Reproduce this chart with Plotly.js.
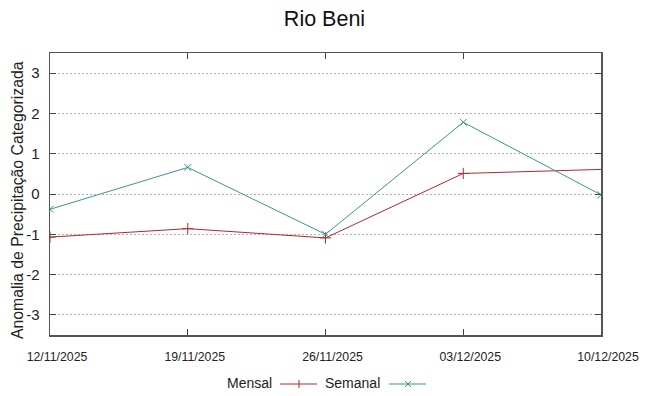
<!DOCTYPE html>
<html>
<head>
<meta charset="utf-8">
<script src="https://cdn.plot.ly/plotly-3.0.1.min.js"></script>
<style>html,body{margin:0;padding:0;background:#fff;}#chart{width:649px;height:396px;}</style>
</head>
<body>
<div id="chart"></div>
<script>
// Data
const dates = ['2025-11-12', '2025-11-19', '2025-11-26', '2025-12-03', '2025-12-10'];
const tickLabels = ['12/11/2025', '19/11/2025', '26/11/2025', '03/12/2025', '10/12/2025'];
const mensalDates = ['2025-11-12', '2025-11-19', '2025-11-26', '2025-12-03', '2025-12-17'];
const mensal = [-1.07, -0.86, -1.09, 0.51, 0.71];
const semanal = [-0.38, 0.66, -1.0, 1.78, -0.02];
const yTicks = [-3, -2, -1, 0, 1, 2, 3];

const FONT = '"Liberation Sans", Arial, sans-serif';
const RED = '#b0282c';
const TEAL = '#3a9595';

const L = 50, R = 601, T = 53, B = 335;
const px = x => (x - L) / (R - L);
const py = y => (B - y) / (B - T);

const traces = [
  {x: mensalDates, y: mensal, type: 'scatter', mode: 'lines+markers', name: 'Mensal',
   line: {color: RED, width: 1}, marker: {symbol: 'cross-thin-open', size: 8, line: {color: RED, width: 1}, color: RED},
   cliponaxis: true, showlegend: false},
  {x: dates, y: semanal, type: 'scatter', mode: 'lines+markers', name: 'Semanal',
   line: {color: TEAL, width: 1}, marker: {symbol: 'x-thin-open', size: 7, line: {color: TEAL, width: 1}, color: TEAL},
   cliponaxis: true, showlegend: false}
];

const shapes = [
  // legend samples
  {type: 'line', xref: 'paper', yref: 'paper', x0: px(280), x1: px(317), y0: py(384), y1: py(384), line: {color: RED, width: 1}},
  {type: 'line', xref: 'paper', yref: 'paper', x0: px(299), x1: px(299), y0: py(380), y1: py(388), line: {color: RED, width: 1}},
  {type: 'line', xref: 'paper', yref: 'paper', x0: px(389), x1: px(426), y0: py(384), y1: py(384), line: {color: TEAL, width: 1}},
  {type: 'line', xref: 'paper', yref: 'paper', x0: px(405), x1: px(411), y0: py(381), y1: py(387), line: {color: TEAL, width: 1}},
  {type: 'line', xref: 'paper', yref: 'paper', x0: px(405), x1: px(411), y0: py(387), y1: py(381), line: {color: TEAL, width: 1}}
];

const annotations = [
  {xref: 'paper', yref: 'paper', x: px(274), y: py(383), text: 'Mensal', showarrow: false, xanchor: 'right', yanchor: 'middle', font: {family: FONT, size: 14, color: '#222'}},
  {xref: 'paper', yref: 'paper', x: px(382), y: py(383), text: 'Semanal', showarrow: false, xanchor: 'right', yanchor: 'middle', font: {family: FONT, size: 14, color: '#222'}},
  {xref: 'paper', yref: 'paper', x: px(18), y: py(200), text: 'Anomalia de Precipitação Categorizada', textangle: -90, showarrow: false, xanchor: 'center', yanchor: 'middle', font: {family: FONT, size: 15.8, color: '#222'}}
];

const layout = {
  width: 649, height: 396,
  margin: {l: L, r: 649 - R, t: T, b: 396 - B, pad: 0},
  paper_bgcolor: '#fff', plot_bgcolor: '#fff',
  showlegend: false,
  title: {text: 'Rio Beni', x: 0.5, xanchor: 'center', y: 1 - 18 / 396, yanchor: 'middle', font: {family: FONT, size: 21.5, color: '#111'}},
  xaxis: {
    type: 'date', range: [dates[0], dates[dates.length - 1]],
    tickmode: 'array', tickvals: dates, ticktext: tickLabels,
    ticks: 'inside', ticklen: 6, tickcolor: '#444', tickwidth: 1,
    showline: true, linecolor: '#555', linewidth: 1.5, mirror: 'allticks',
    showgrid: false, zeroline: false,
    tickfont: {family: FONT, size: 12.3, color: '#222'}, ticklabelstandoff: 10, ticklabelshift: 7
  },
  yaxis: {
    range: [-3.5, 3.5], tickmode: 'array', tickvals: yTicks, ticktext: yTicks.map(String),
    ticks: 'inside', ticklen: 6, tickcolor: '#444', tickwidth: 1,
    showline: true, linecolor: '#555', linewidth: 1.5, mirror: 'allticks',
    showgrid: true, gridcolor: '#b0b0b0', griddash: '2px,2px', gridwidth: 1, zeroline: false,
    tickfont: {family: FONT, size: 15, color: '#222'}, ticklabelstandoff: 6
  },
  shapes: shapes,
  annotations: annotations
};

Plotly.newPlot('chart', traces, layout, {displayModeBar: false, staticPlot: true});
</script>
</body>
</html>
